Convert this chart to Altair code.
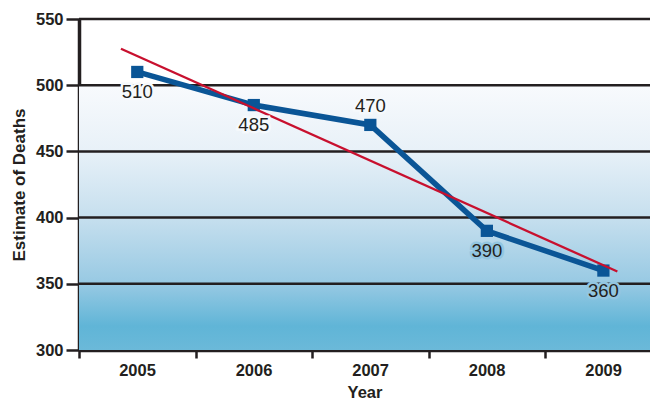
import altair as alt
import pandas as pd

# Annual estimates of deaths
years = [2005, 2006, 2007, 2008, 2009]
deaths = [510, 485, 470, 390, 360]

# Axis ticks
y_ticks = [300, 350, 400, 450, 500, 550]
x_boundaries = [2004.5, 2005.5, 2006.5, 2007.5, 2008.5]

df = pd.DataFrame({"year": years, "deaths": deaths})
grid_df = pd.DataFrame({"v": y_ticks[1:]})
band_df = pd.DataFrame({"top": [500], "bottom": [300]})

INK = "#231F20"
BLUE = "#0A5596"
RED = "#C8102E"
FONT = "Liberation Sans"

x_scale = alt.Scale(domain=[2004.5, 2009.4], nice=False, zero=False)
y_scale = alt.Scale(domain=[300, 550], nice=False, zero=False)

x_axis = alt.Axis(
    title="Year", values=x_boundaries,
    labelExpr="format(datum.value + 0.5, 'd')", labelOffset=58,
    labelFlush=False, labelBound=False, labelOverlap=False,
    tickSize=8, tickWidth=2.5, tickColor=INK,
    domainWidth=3.5, domainColor=INK, grid=False,
    labelFont=FONT, labelFontSize=16.5, labelColor=INK, labelPadding=4,
    labelFontWeight="bold",
    titleFont=FONT, titleFontSize=16.5, titleFontWeight="bold", titleColor=INK,
    titlePadding=6,
)
y_axis = alt.Axis(
    title="Estimate of Deaths", values=y_ticks,
    tickSize=13, tickWidth=2.5, tickColor=INK,
    domainWidth=3.5, domainColor=INK, grid=False,
    labelFont=FONT, labelFontSize=16.5, labelColor=INK, labelPadding=3,
    labelFontWeight="bold",
    titleFont=FONT, titleFontSize=17, titleFontWeight="bold", titleColor=INK,
    titlePadding=7,
)

gradient = alt.LinearGradient(
    gradient="linear", x1=0, x2=0, y1=0, y2=1,
    stops=[
        alt.GradientStop(color="#F8FAFD", offset=0),
        alt.GradientStop(color="#E8F1F8", offset=0.245),
        alt.GradientStop(color="#C6DFEE", offset=0.5),
        alt.GradientStop(color="#97C9E3", offset=0.75),
        alt.GradientStop(color="#60B5D7", offset=0.91),
        alt.GradientStop(color="#6BB9D9", offset=1),
    ],
)

background = alt.Chart(band_df).mark_rect(fill=gradient, stroke=None).encode(
    x=alt.value(0), x2=alt.value(571),
    y=alt.Y("top:Q", scale=y_scale, axis=y_axis),
    y2="bottom:Q",
)

grid = alt.Chart(grid_df).mark_rule(color=INK, strokeWidth=2.5).encode(
    y=alt.Y("v:Q", scale=y_scale),
    x=alt.value(0), x2=alt.value(571),
)

base = alt.Chart(df).encode(
    x=alt.X("year:Q", scale=x_scale, axis=x_axis),
    y=alt.Y("deaths:Q", scale=y_scale),
)

line = base.mark_line(color=BLUE, strokeWidth=5.5)
points = base.mark_square(color=BLUE, size=150, opacity=1, filled=True)

trend = base.transform_regression(
    "year", "deaths", extent=[2004.86, 2009.12]
).mark_line(color=RED, strokeWidth=2.3)

halo_color = alt.condition(alt.datum.deaths < 400, alt.value("#93C6E1"), alt.value("#F6F9FC"))


def labels(pred, dy):
    src = base.transform_filter(pred)
    halo = src.mark_text(font=FONT, fontSize=18.5, dy=dy, strokeWidth=5).encode(
        text="deaths:Q", stroke=halo_color, fill=halo_color
    )
    txt = src.mark_text(font=FONT, fontSize=18.5, dy=dy, color=INK).encode(text="deaths:Q")
    return halo + txt


below = labels(alt.datum.year != 2007, 20)
above = labels(alt.datum.year == 2007, -19)

chart = alt.layer(background, grid, line, points, trend, below, above).properties(
    width=571, height=331,
    autosize=alt.AutoSizeParams(type="none"),
    padding={"left": 79, "top": 19, "right": 0, "bottom": 51},
).configure_view(stroke=None).configure(background="white")

chart.save("out.html", embed_options={"renderer": "svg", "actions": False})
